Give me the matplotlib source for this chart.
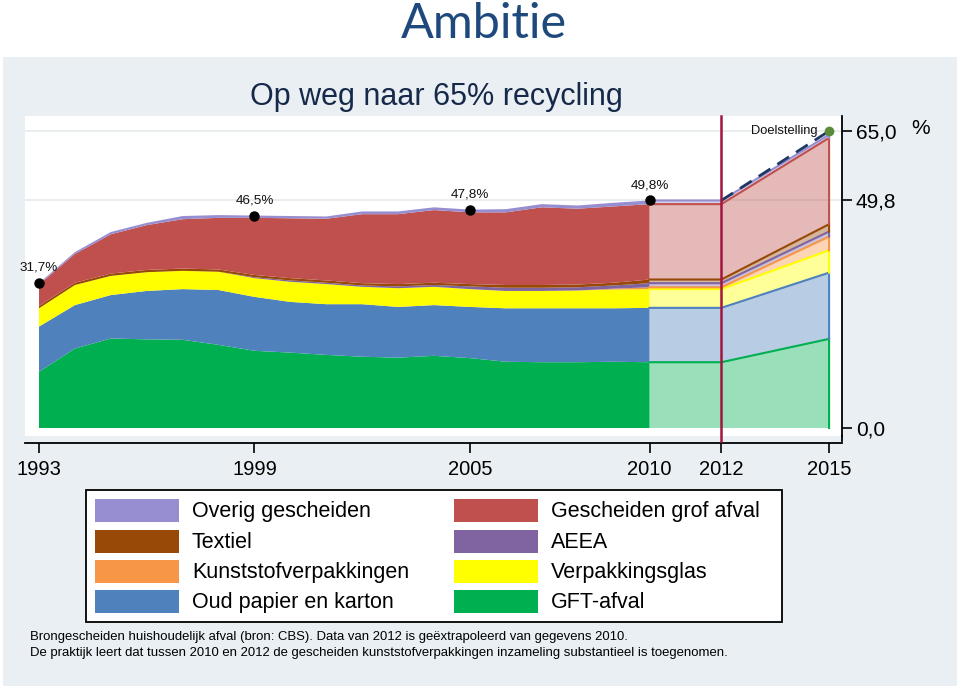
import matplotlib
matplotlib.use("Agg")
import matplotlib.pyplot as plt
from matplotlib.patches import Rectangle
from matplotlib.transforms import blended_transform_factory
import numpy as np

plt.rcParams['font.family'] = ['Liberation Sans', 'DejaVu Sans']

# ---------------- data ----------------
years = list(range(1993, 2011))
series_names = ["GFT-afval", "Oud papier en karton", "Verpakkingsglas",
                "Kunststofverpakkingen", "AEEA", "Textiel",
                "Gescheiden grof afval", "Overig gescheiden"]
gft       = [12.3, 17.4, 19.6, 19.4, 19.3, 18.2, 16.9, 16.5, 16.0, 15.6, 15.4, 15.8, 15.3, 14.5, 14.4, 14.4, 14.5, 14.4]
papier    = [9.9, 9.5, 9.5, 10.6, 11.1, 12.0, 11.8, 11.1, 11.1, 11.5, 11.1, 11.1, 11.2, 11.7, 11.8, 11.8, 11.7, 11.9]
glas      = [4.0, 4.4, 4.2, 4.1, 4.0, 4.0, 4.1, 4.4, 4.4, 3.8, 4.1, 4.0, 3.9, 3.8, 3.8, 3.9, 4.1, 4.1]
kunststof = [0, 0, 0, 0, 0, 0, 0, 0, 0, 0, 0, 0, 0, 0, 0, 0, 0.2, 0.4]
aeea      = [0, 0, 0, 0, 0, 0, 0.2, 0.3, 0.3, 0.3, 0.4, 0.4, 0.6, 0.7, 0.7, 0.7, 0.7, 0.9]
textiel   = [0.5, 0.5, 0.5, 0.5, 0.5, 0.5, 0.5, 0.5, 0.5, 0.5, 0.5, 0.5, 0.5, 0.6, 0.6, 0.6, 0.6, 0.8]
grof      = [4.7, 6.3, 8.6, 9.8, 10.8, 11.3, 12.5, 13.1, 13.5, 15.1, 15.3, 15.9, 15.7, 15.9, 17.0, 16.6, 16.7, 16.5]
overig    = [0.3, 0.4, 0.5, 0.5, 0.7, 0.6, 0.5, 0.5, 0.5, 0.6, 0.6, 0.6, 0.6, 0.7, 0.7, 0.7, 0.8, 0.8]

# extrapolation (2010 -> 2012 -> 2015)
proj_years     = [2010, 2012, 2015]
proj_gft       = [14.4, 14.4, 19.5]
proj_papier    = [11.9, 11.9, 14.5]
proj_glas      = [4.1, 4.1, 4.9]
proj_kunststof = [0.4, 0.4, 3.0]
proj_aeea      = [0.9, 0.9, 1.1]
proj_textiel   = [0.8, 0.8, 1.6]
proj_grof      = [16.5, 16.5, 18.9]
proj_overig    = [0.8, 0.8, 0.7]

label_years  = [1993, 1999, 2005, 2010]
label_values = [31.7, 46.5, 47.8, 49.8]
label_texts  = ["31,7%", "46,5%", "47,8%", "49,8%"]
target_year, target_value = 2015, 65.0
target_start_year = 2012

xticks = [1993, 1999, 2005, 2010, 2012, 2015]
yticks = [0.0, 49.8, 65.0]
ytick_labels = ["0,0", "49,8", "65,0"]

colors = ["#00b050", "#4f81bd", "#ffff00", "#f79646", "#8064a2", "#984807", "#c0504d", "#968ed0"]

# legend order (left column, right column)
legend_left  = ["Overig gescheiden", "Textiel", "Kunststofverpakkingen", "Oud papier en karton"]
legend_right = ["Gescheiden grof afval", "AEEA", "Verpakkingsglas", "GFT-afval"]

# ---------------- figure ----------------
W, H = 960, 691
fig = plt.figure(figsize=(W / 100, H / 100), dpi=100)
fig.patch.set_facecolor("white")

def fx(x):
    return x / W

def fy(y):
    return 1 - y / H

# light panel
fig.patches.append(Rectangle((fx(3), fy(686)), fx(957) - fx(3), fy(57) - fy(686),
                             transform=fig.transFigure, facecolor="#e9eff2",
                             edgecolor="none", zorder=-5))

fig.text(fx(484), fy(24), "Ambitie", ha="center", va="center", fontsize=35,
         color="#1f497d", family=["Lato", "DejaVu Sans"])
fig.text(fx(436), fy(97), "Op weg naar 65% recycling", ha="center", va="center",
         fontsize=22, color="#17294a")

ax = fig.add_axes([fx(25), fy(436), fx(842) - fx(25), fy(116) - fy(436)])
ax.set_zorder(1)
ax.set_facecolor("white")
YMIN, YMAX = -1.75, 68.29
ax.set_xlim(1992.61, 2015.36)
ax.set_ylim(YMIN, YMAX)

hist = [gft, papier, glas, kunststof, aeea, textiel, grof, overig]
proj = [proj_gft, proj_papier, proj_glas, proj_kunststof, proj_aeea,
        proj_textiel, proj_grof, proj_overig]

# gridlines
for v in yticks[1:]:
    ax.axhline(v, color="#e4eaee", lw=1.2, zorder=0.5)

ax.stackplot(years, *hist, colors=colors, linewidth=0, zorder=2)
ax.stackplot(proj_years, *proj, colors=colors, alpha=0.4, linewidth=0, zorder=2)

# boundary lines for the extrapolated part
cum = np.zeros(len(proj_years))
for vals, c in zip(proj, colors):
    bottom = cum.copy()
    cum = cum + np.array(vals)
    xs = list(proj_years) + [proj_years[-1]]
    ys = list(cum) + [bottom[-1]]
    ax.plot(xs, ys, color=c, lw=1.5, zorder=3, solid_joinstyle="miter")

# dashed target line
ax.plot([target_start_year, target_year], [cum[1], target_value],
        color="#1f3864", lw=2, ls=(0, (5, 3)), zorder=4)

# 2012 vertical line
ax.plot([2012, 2012], [YMAX, -2.85], color="#a3153f", lw=1.8, zorder=4, clip_on=False)

# extend right axis line down to the offset x axis
tr = blended_transform_factory(ax.transAxes, ax.transData)
ax.plot([1, 1], [YMIN, -2.85], color="black", lw=1.3, transform=tr, clip_on=False,
        solid_capstyle="projecting", zorder=4)

# markers and labels
ax.plot(label_years, label_values, "o", color="black", ms=6.5, zorder=5)
for xv, yv, t in zip(label_years, label_values, label_texts):
    ax.annotate(t, (xv, yv), xytext=(0, 11), textcoords="offset points",
                ha="center", va="center", fontsize=9.7, color="#111111", zorder=6)
ax.plot([target_year], [target_value], "o", color="#5b8a3a", ms=6, zorder=5, clip_on=False)
ax.annotate("Doelstelling", (target_year, target_value), xytext=(-8, 0),
            textcoords="offset points", ha="right", va="center", fontsize=9.3,
            color="#111111")

# axes styling
for s in ["left", "top"]:
    ax.spines[s].set_visible(False)
ax.spines["bottom"].set_position(("outward", 5))
ax.spines["bottom"].set_linewidth(1.3)
ax.spines["right"].set_linewidth(1.3)
ax.yaxis.tick_right()
ax.set_yticks(yticks)
ax.set_yticklabels(ytick_labels)
ax.set_xticks(xticks)
ax.set_xticklabels([str(x) for x in xticks])
ax.tick_params(axis="x", length=7, width=1.2, pad=5, labelsize=14.5, direction="out")
ax.tick_params(axis="y", length=7, width=1.2, pad=3, labelsize=15, direction="out")
fig.text(fx(921), fy(128), "%", ha="center", va="center", fontsize=15)

# ---------------- legend ----------------
fig.patches.append(Rectangle((fx(86), fy(622)), fx(782) - fx(86), fy(490) - fy(622),
                             transform=fig.transFigure, facecolor="white",
                             edgecolor="black", lw=1.3, zorder=1))
name_to_color = dict(zip(series_names, colors))
row_centers = [510.5, 541, 571.5, 601.5]
for col, (names, sx0, sx1, tx) in enumerate([(legend_left, 95, 179, 192),
                                              (legend_right, 454, 538, 551)]):
    for name, yc in zip(names, row_centers):
        fig.patches.append(Rectangle((fx(sx0), fy(yc + 11.5)), fx(sx1) - fx(sx0), 23 / H,
                                     transform=fig.transFigure,
                                     facecolor=name_to_color[name], edgecolor="none",
                                     zorder=2))
        fig.text(fx(tx), fy(yc + 1), name, ha="left", va="center", fontsize=15.5,
                 color="black", zorder=3)

fig.text(fx(30), fy(637), "Brongescheiden huishoudelijk afval (bron: CBS). Data van 2012 is geëxtrapoleerd van gegevens 2010.",
         ha="left", va="center", fontsize=9.45, color="black")
fig.text(fx(30), fy(653), "De praktijk leert dat tussen 2010 en 2012 de gescheiden kunststofverpakkingen inzameling substantieel is toegenomen.",
         ha="left", va="center", fontsize=9.45, color="black")

fig.savefig("out.png", dpi=100, facecolor=fig.get_facecolor())
